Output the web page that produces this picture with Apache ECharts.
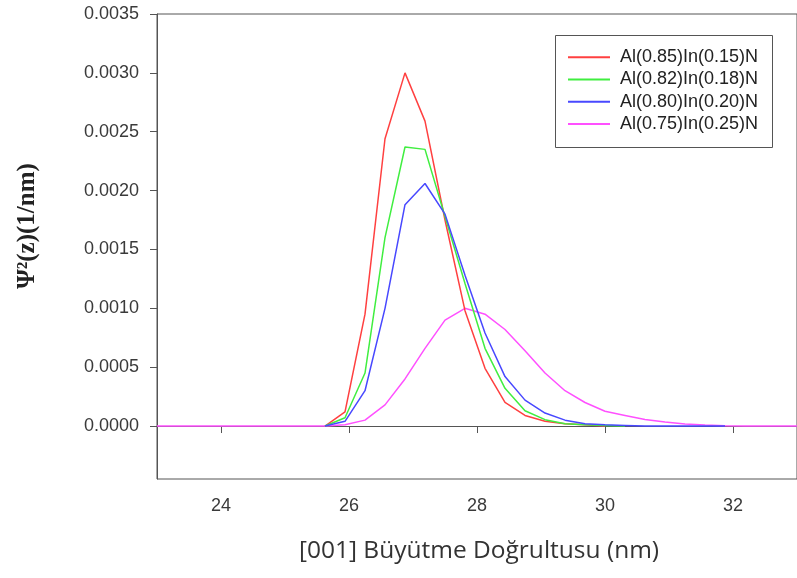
<!DOCTYPE html>
<html><head><meta charset="utf-8">
<script src="https://cdn.jsdelivr.net/npm/echarts@6/dist/echarts.min.js"></script>
<style>html,body{margin:0;padding:0;background:#fff}#c{width:797px;height:578px}</style>
</head><body><div id="c"></div>
<script>
const seriesNames = ['Al(0.85)In(0.15)N', 'Al(0.82)In(0.18)N', 'Al(0.80)In(0.20)N', 'Al(0.75)In(0.25)N'];
const xTicks = [24, 26, 28, 30, 32];
const yTicks = [0, 0.0005, 0.001, 0.0015, 0.002, 0.0025, 0.003, 0.0035];
const xLabel = '[001] Büyütme Doğrultusu (nm)';
const yLabel = 'Ψ²(z)(1/nm)';

const zMain = [25.625, 25.9375, 26.25, 26.5625, 26.875, 27.1875, 27.5, 27.8125, 28.125, 28.4375,
  28.75, 29.0625, 29.375, 29.6875, 30.0, 30.3125, 30.625, 30.9375, 31.25, 31.5625, 31.875];
const red = [0, 0.00012, 0.00095, 0.00244, 0.00300, 0.00259, 0.00175, 0.00098, 0.00049, 0.00020,
  0.00009, 0.00004, 0.00002, 0.00001, 0];
const green = [0, 0.00007, 0.00045, 0.00160, 0.00237, 0.00235, 0.00178, 0.00121, 0.00066, 0.00032,
  0.00013, 0.000054, 0.00002, 0.00001, 0.000005, 0];
const blue = [0, 0.00004, 0.00030, 0.00100, 0.00188, 0.00206, 0.00180, 0.00128, 0.00079, 0.00042,
  0.00022, 0.00011, 0.00005, 0.00002, 0.00001, 0.000005, 0, 0, 0, 0, 0];
const zPink = [23, 25.625, 25.9375, 26.25, 26.5625, 26.875, 27.1875, 27.5, 27.8125, 28.125, 28.4375,
  28.75, 29.0625, 29.375, 29.6875, 30.0, 30.3125, 30.625, 30.9375, 31.25, 31.5625, 31.875, 32.1875, 33];
const pink = [0, 0, 0.00001, 0.00005, 0.00018, 0.00040, 0.00066, 0.00090, 0.00100, 0.00095, 0.00082,
  0.00064, 0.00045, 0.00030, 0.00020, 0.000125, 0.00009, 0.000055, 0.000034, 0.000017, 0.000008, 0.000003, 0, 0];

const colors = ['#ff4040', '#40ee40', '#4848ff', '#ff50ff'];
const pair = (zs, vs) => vs.map((v, i) => [zs[i], v]);
const seriesData = [pair(zMain, red), pair(zMain, green), pair(zMain, blue), pair(zPink, pink)];

const chart = echarts.init(document.getElementById('c'), null, {renderer: 'canvas'});
const fmtY = v => v.toFixed(4);
const lineSeries = seriesData.map((d, i) => ({
  name: seriesNames[i], type: 'line', data: d, symbol: 'none', showSymbol: false,
  lineStyle: {width: 1.5, color: colors[i]}, itemStyle: {color: colors[i]},
  z: i === 3 ? 1 : 2 + i, animation: false
}));
chart.setOption({
  animation: false,
  backgroundColor: '#fff',
  grid: {left: 157, top: 14, width: 645, height: 465, show: true, borderColor: '#555', borderWidth: 1, backgroundColor: 'transparent'},
  xAxis: {
    type: 'value', min: 23, max: 33,
    axisLine: {show: true, lineStyle: {color: '#555', width: 1}},
    axisTick: {show: true, length: 7, lineStyle: {color: '#555'}, customValues: xTicks},
    axisLabel: {customValues: xTicks, margin: 18, fontSize: 18, fontFamily: 'Liberation Sans', color: '#3a3a3a'},
    splitLine: {show: false}
  },
  yAxis: {
    type: 'value', min: -0.00045, max: 0.0035,
    axisLine: {show: true, lineStyle: {color: '#555', width: 1}},
    axisTick: {show: true, length: 7, lineStyle: {color: '#555'}, customValues: yTicks},
    axisLabel: {customValues: yTicks, margin: 18, fontSize: 18, fontFamily: 'Liberation Sans', color: '#3a3a3a', formatter: fmtY},
    splitLine: {show: false}
  },
  legend: {
    data: seriesNames, orient: 'vertical', left: 568, top: 46, padding: 0, itemGap: 0,
    itemWidth: 42, itemHeight: 2, icon: 'rect',
    textStyle: {fontSize: 18, fontFamily: 'Liberation Sans', color: '#222', lineHeight: 22.3, padding: [0, 0, 0, 5]}
  },
  graphic: [
    {type: 'rect', shape: {x: 555.5, y: 35.5, width: 217, height: 112}, style: {fill: 'none', stroke: '#555', lineWidth: 1}, z: 100},
    {type: 'text', x: 28, y: 226, rotation: Math.PI / 2,
      style: {text: yLabel, font: 'bold 25px "Liberation Serif"', fill: '#222', align: 'center', verticalAlign: 'middle'}},
    {type: 'text', x: 479, y: 551,
      style: {text: xLabel, font: '24.5px "Open Sans"', fill: '#333', align: 'center', verticalAlign: 'middle'}}
  ],
  series: lineSeries
});
</script></body></html>
